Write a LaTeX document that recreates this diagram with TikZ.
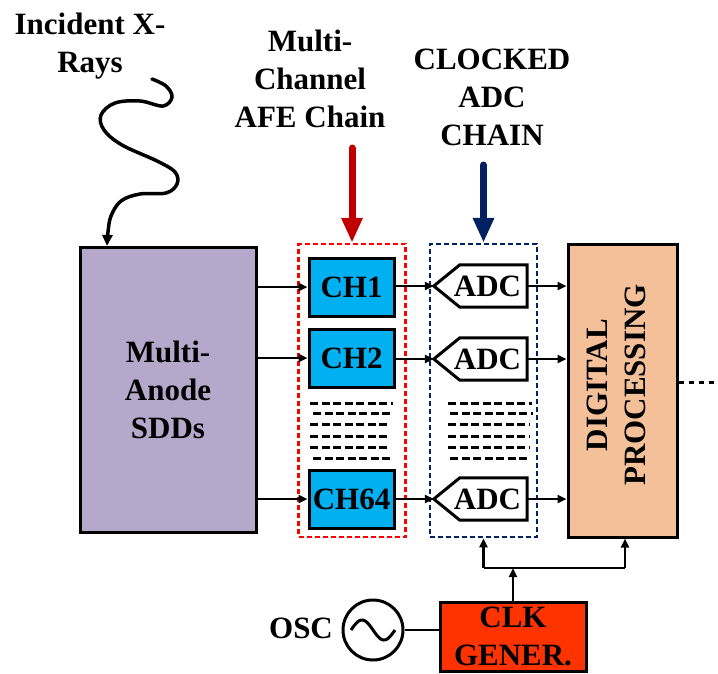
\documentclass[tikz,border=0pt]{standalone}
\usepackage{fontspec}
\setmainfont{Liberation Serif}
\usetikzlibrary{arrows.meta,calc}
\definecolor{sddfill}{HTML}{B4A8CB}
\definecolor{chfill}{HTML}{00B0F0}
\definecolor{dpfill}{HTML}{F4C09A}
\definecolor{clkfill}{HTML}{FF3300}
\definecolor{afered}{HTML}{FF0000}
\definecolor{arrred}{HTML}{C00000}
\definecolor{navyc}{HTML}{002060}
\begin{document}
\begin{tikzpicture}[x=1pt,y=-1pt,
  every node/.style={font=\fontsize{31}{38}\selectfont\bfseries, inner sep=0pt},
  box/.style={draw=black, line width=3pt, rectangle, align=center},
  conn/.style={line width=2.5pt, -{Triangle[length=9pt,width=8pt]}},
  plainline/.style={line width=2.5pt},
  bigarrow/.style={line width=7pt, line cap=round, -{Triangle[length=25pt,width=20pt]}},
  groupbox/.style={rectangle, line width=2.5pt, dash pattern=on 5pt off 3pt, minimum width=107pt, minimum height=293pt},
  dotrow/.style={line width=3pt, dash pattern=on 8pt off 3.5pt},
  adcshape/.style={draw=black, line width=3pt, fill=white, line join=miter},
  wave/.style={line width=3.5pt, line cap=round, -{Triangle[length=11pt,width=10pt]}}
]
\useasboundingbox (0,0) rectangle (718,673);

% Titles (anchor base = baseline of the last line)
\node[anchor=base, align=center] (inclbl) at (90,72) {Incident X-\\Rays};
\node[anchor=base, align=center] (afelbl) at (310,127) {Multi-\\Channel\\AFE Chain};
\node[anchor=base, align=center] (adclbl) at (492,145) {CLOCKED\\ADC\\CHAIN};

% SDD box
\node[box, fill=sddfill, minimum width=176pt, minimum height=285pt] (sdd) at (168,389.5) {Multi-\\Anode\\SDDs};

% group boxes
\node[groupbox, draw=afered] (afebox) at (352,390.5) {};
\node[groupbox, draw=navyc] (adcbox) at (483.5,390.5) {};

% big arrows
\coordinate (redtop) at (352,148);
\coordinate (navytop) at (483.5,165);
\draw[bigarrow, arrred] (redtop) -- (afebox.north);
\draw[bigarrow, navyc] (navytop) -- (adcbox.north);

% channel boxes
\node[box, fill=chfill, minimum width=85pt, minimum height=58pt] (ch1) at (351.5,287) {CH1};
\node[box, fill=chfill, minimum width=85pt, minimum height=58pt] (ch2) at (351.5,358) {CH2};
\node[box, fill=chfill, minimum width=85pt, minimum height=58pt] (ch64) at (351.5,499) {CH64};

% ADC nodes
\foreach \n/\yy in {adc1/286, adc2/359, adc3/499}{
  \node[minimum width=93pt, minimum height=42pt] (\n) at (480.5,\yy) {};
  \draw[adcshape] (\n.west) -- ([xshift=26pt]\n.north west) -- (\n.north east) -- (\n.south east) -- ([xshift=26pt]\n.south west) -- cycle;
  \node (\n t) at ([xshift=7pt]\n.center) {ADC};
}

% digital processing
\node[box, fill=dpfill, minimum width=109pt, minimum height=293pt] (dp) at (622.5,390.5) {};
\node[anchor=base, rotate=90, align=center] (dplbl) at (645,385) {DIGITAL\\PROCESSING};

% connectors
\draw[conn] (sdd.east |- ch1.west) -- (ch1.west);
\draw[conn] (sdd.east |- ch2.west) -- (ch2.west);
\draw[conn] (sdd.east |- ch64.west) -- (ch64.west);
\draw[conn] (ch1.east |- adc1.west) -- (adc1.west);
\draw[conn] (ch2.east |- adc2.west) -- (adc2.west);
\draw[conn] (ch64.east |- adc3.west) -- (adc3.west);
\draw[conn] (adc1.east) -- (adc1.east -| dp.west);
\draw[conn] (adc2.east) -- (adc2.east -| dp.west);
\draw[conn] (adc3.east) -- (adc3.east -| dp.west);

% dotted rows
\foreach \yy/\a/\b in {403/310/393, 413/313/393, 424/310/390, 436/310/390, 447/310/390, 458/313/390}
  \draw[dotrow] (\a,\yy) -- (\b,\yy);
\foreach \yy/\a/\b in {403/448/532, 413/450/533, 424/448/530, 436/448/530, 447/448/530, 458/450/530}
  \draw[dotrow] (\a,\yy) -- (\b,\yy);

% output dashed line
\coordinate (outend) at (718,382);
\draw[line width=3pt, dash pattern=on 5pt off 5pt] (dp.east |- outend) -- (outend);

% clock
\node[box, fill=clkfill, minimum width=146pt, minimum height=69pt] (clk) at (513,636.5) {CLK\\GENER.};
\node[circle, draw=black, line width=3pt, minimum size=60pt] (osc) at (373,630) {};
\draw[line width=3pt] plot[domain=0:1, samples=40] ({351+44*\x},{630-10*sin(360*\x)});
\node[anchor=base] (osclbl) at (301,638) {OSC};
\draw[plainline] (osc.east) -- (osc.east -| clk.west);
\coordinate (busl) at (483.5,568);
\coordinate (busr) at (625,568);
\draw[conn] (clk.north) -- (clk.north |- busl);
\draw[plainline] (busl) -- (busr);
\draw[conn] (busl) -- (adcbox.south);
\draw[conn] (busr) -- (busr |- dp.south);

% incident x-ray wave
\coordinate (xray) at (107,246);
\draw[wave] plot[smooth, tension=0.6] coordinates {(152,79) (166,86) (172,97) (163,106) (140,101) (115,103) (101,115) (104,130) (122,145) (157,161) (175,172) (177,184) (166,193) (140,194) (121,201) (111,216) (108,232) (xray)};
\end{tikzpicture}
\end{document}
